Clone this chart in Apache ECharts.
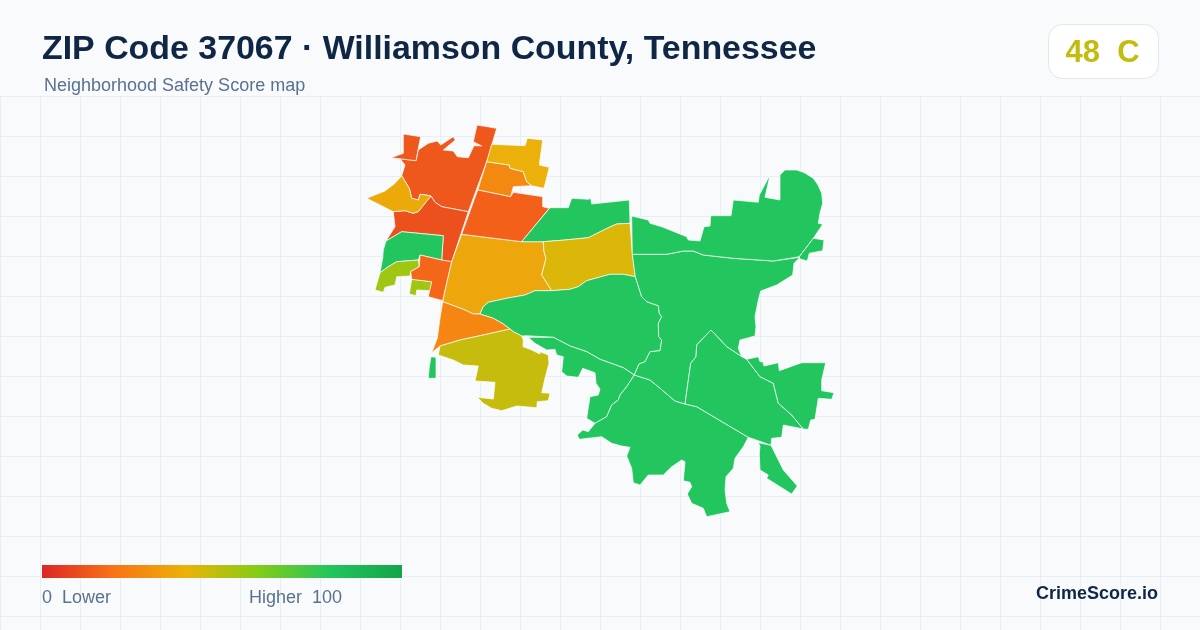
<!DOCTYPE html>
<html><head><meta charset="utf-8">
<style>html,body{margin:0;padding:0;background:#f8fafc}#c{width:1200px;height:630px}</style>
<script src="https://cdn.jsdelivr.net/npm/echarts@6/dist/echarts.min.js"></script>
</head><body><div id="c"></div>
<script>
// ---- data ----
const titleText = 'ZIP Code 37067 · Williamson County, Tennessee';
const subtitleText = 'Neighborhood Safety Score map';
const overallScore = 48;
const overallGrade = 'C';
const scaleMin = 0;
const scaleMax = 100;
const scaleStops = ['#dc2626','#f97316','#eab308','#84cc16','#22c55e','#16a34a'];
const regionNames = ['A','A2','B','W','GW','LW','LW2','OW','C1','NO','NA','CR','GN','YE','D','E','F','G','H','I','J','K','L','S'];
const regionScores = [13,13,11,37,80,55,55,17,36,27,39,15,80,43,80,80,80,80,80,80,80,80,80,80];
// region outlines, in map units
const outlines = {
 A:[[477,125],[496.7,128.3],[487.3,160],[468.3,211.7],[441.7,206.7],[435,202.3],[431,196],[426,195],[420,194.3],[418.3,200],[411.7,198.3],[409.3,188.3],[401.7,175.7],[405,165],[400,158.7],[416,160.7],[418.3,150],[428.3,143.3],[437.3,141],[440.7,145],[453.3,136.7],[455.3,140],[443.3,150],[453.3,151],[457.3,156.7],[468.3,157.7],[474,145.7],[481.7,146],[473.3,141.7]],
 A2:[[403.3,134],[420.7,136.7],[418.3,148.3],[416,160.7],[391,157.7],[403.3,153.3]],
 B:[[393.3,211.7],[405,210.7],[413.3,213.3],[418.3,211.7],[425,203.3],[431,196],[435,202.3],[441.7,206.7],[468.3,211.7],[451.7,261.7],[441.7,260],[443.3,235.7],[401.7,231.7],[386,241],[395,226.7]],
 W:[[401.7,175.7],[409.3,188.3],[411.7,198.3],[418.3,200],[420,194.3],[426,195],[431,196],[425,203.3],[418.3,211.7],[413.3,213.3],[405,210.7],[393.3,211.7],[366.7,198.3],[385,191],[395,183.3]],
 GW:[[401.7,231.7],[443.3,235.7],[441.7,260],[420,255],[418.3,260],[396.7,261.7],[388.3,266.7],[380,272.7],[382.7,258.3],[383.3,250],[386,241]],
 LW:[[380,272.7],[388.3,266.7],[396.7,261.7],[418.3,260],[419.3,266.7],[410.7,271.7],[410,276],[396.7,276.7],[395,285],[385,287.3],[383.3,292.3],[375,290]],
 LW2:[[411.7,279.3],[431.7,281.7],[430.7,290.7],[416.7,290],[416,295.7],[409.3,294]],
 OW:[[420,255],[441.7,260],[451.7,261.7],[447,282],[442.7,300.7],[428.3,296.7],[431.7,281.7],[411.7,279.3],[410.7,271.7],[419.3,266.7]],
 C1:[[461.7,234.3],[521.7,241.7],[543.3,241.7],[544,251.7],[546,258.3],[541.7,275],[551.7,290.7],[535,290.7],[525,295],[506.7,298.3],[488.3,302.3],[483.3,306.7],[480,314],[473.3,314],[463.3,309.3],[442.7,301.7],[447,282],[451.7,261.7]],
 NO:[[486.7,161.7],[509.3,165],[510,168.3],[523.3,171.7],[526.7,181.7],[531.7,185.7],[513.3,186.7],[510.7,196.7],[477.7,190]],
 NA:[[491.7,144.3],[525,145.7],[527.3,138.3],[542.7,140],[539.3,165],[549.3,167.3],[544,188.3],[531.7,185.7],[526.7,181.7],[523.3,171.7],[510,168.3],[509.3,165],[486.7,161.7]],
 CR:[[477.7,190],[510.7,196.7],[513.3,192.3],[542.7,196.7],[542.7,206.7],[549.3,208.3],[521.7,241.7],[461.7,234.3]],
 GN:[[550,207.7],[568.3,207.7],[571.7,198.3],[588.3,199.3],[590.7,198.3],[591.7,204],[629.3,200],[630,223.3],[616.7,224],[608.3,227.7],[588.3,237.7],[565,240],[543.3,241.7],[521.7,241.7]],
 YE:[[543.3,241.7],[565,240],[588.3,237.7],[608.3,227.7],[616.7,224],[630,223.3],[632.3,253.3],[635.3,276.7],[623.3,274.3],[610,274.3],[586.7,280.7],[578.3,286.7],[570,289.3],[551.7,290.7],[541.7,275],[546,258.3],[544,251.7]],
 D:[[551.7,290.7],[570,289.3],[578.3,286.7],[586.7,280.7],[610,274.3],[623.3,274.3],[635.3,276.7],[641.7,296.7],[646.7,301.7],[658.3,305.7],[659.3,313.3],[661.7,316.7],[658.3,323.3],[658.7,336.7],[661.7,340],[660,350.7],[650,351.7],[645,361.7],[639,364],[634.3,375],[623.3,367.7],[600,359.3],[586.7,351.7],[570,346],[553.3,337.3],[526.7,335.7],[521.7,336],[513.3,331.7],[510,329],[503.3,324],[493.3,318.3],[480,314],[483.3,306.7],[488.3,302.3],[506.7,298.3],[525,295],[535,290.7]],
 E:[[528.3,337.3],[553.3,337.3],[570,346],[586.7,351.7],[600,359.3],[623.3,367.7],[634.3,375],[626.7,386.7],[620,395],[618.3,400],[611.7,405],[606.7,416.7],[595,423.3],[586.7,418.3],[590,396.7],[598.3,395],[600,389],[596,383.3],[595,372.7],[582.7,368.3],[578.3,377.3],[566.7,376],[561.7,371.7],[563.3,356.7],[556.7,355],[555,349.3],[546.7,350],[535,343.3]],
 F:[[595,423.3],[606.7,416.7],[611.7,405],[618.3,400],[620,395],[626.7,386.7],[634.3,375],[650,380],[658.3,386.7],[675,401],[685,404],[696.7,406.7],[748.3,437.3],[743.3,446.7],[735,458.3],[733.3,468.3],[726,476.7],[725,490],[726.7,503.3],[730,511.7],[706.7,516.7],[703.3,508.3],[691.7,503.3],[687.3,494],[691.7,486.7],[690,482.3],[683.3,480.7],[685,461.7],[681.7,460],[671.7,466.7],[663.3,475],[648.3,475],[640,485],[633.3,482.7],[631.7,468.3],[626.7,456],[630,447.3],[621.7,446],[611.7,443.3],[601.7,436.7],[579.3,439.3],[577.3,435],[582.7,430],[588.3,431.7]],
 G:[[632.3,254.3],[656.7,254.3],[666.7,254.3],[683.3,251],[693.3,251],[703.3,255],[733.3,258.3],[773.3,261],[800,257.3],[794,263.3],[792.7,275],[776.7,285],[760.7,291],[758.3,300],[755,316.7],[756,326.7],[755,336],[740,340],[738.3,348.3],[741.7,356.7],[726.7,346.7],[711,330],[696.7,345],[696,356.7],[690.7,363.3],[685,404],[675,401],[658.3,386.7],[650,380],[634.3,375],[639,364],[645,361.7],[650,351.7],[660,350.7],[661.7,340],[658.7,336.7],[658.3,323.3],[661.7,316.7],[659.3,313.3],[658.3,305.7],[646.7,301.7],[641.7,296.7],[635.3,276.7]],
 H:[[711,330],[726.7,346.7],[741.7,356.7],[746.7,359.3],[760,376.7],[773.3,383.3],[778.3,403.3],[791.7,415],[803.3,429],[783.3,425],[781.7,437.3],[771.7,438.3],[771,445.3],[758.3,440.7],[748.3,437.3],[696.7,406.7],[685,404],[690.7,363.3],[696,356.7],[696.7,345]],
 I:[[758.3,442.7],[771,445.3],[783.3,470],[797.3,486],[791.7,494],[766.7,478.3],[768.3,475],[760,470],[759.3,453.3],[760,446]],
 J:[[746.7,359.3],[758.3,356.7],[760,361.7],[762.7,361.7],[764,366],[778.3,362.7],[779.3,370.7],[801.7,362.7],[825.7,362.7],[821.7,380],[821.7,390.7],[834,392.7],[831.7,399.3],[818.3,398.3],[815,419.3],[810.7,420],[808.3,429.3],[803.3,429],[791.7,415],[778.3,403.3],[773.3,383.3],[760,376.7]],
 K:[[631.7,216],[648.3,220],[650,223.3],[661.7,226.7],[686.7,236.7],[688.3,240],[700,241],[704,226.7],[710,226],[710.7,215.7],[731,215.7],[733.3,200],[758.3,202.3],[759.3,195],[770,175],[765,197.3],[780,200],[780,175],[785,170],[796.7,170],[804,172.5],[813.3,178.3],[818,185],[821.7,193.3],[822.7,203.3],[820,213],[818.3,223.3],[822.7,224.3],[813.3,238.3],[799.3,256.7],[773.3,261],[733.3,258.3],[703.3,255],[693.3,251],[683.3,251],[666.7,254.3],[656.7,254.3],[632.3,254.3]],
 L:[[813.3,238.3],[824,240],[822.7,250.7],[809.3,253.3],[807.3,261],[800,259],[799.3,256.7]],
 S:[[431,356.7],[436,357.3],[436,378.3],[428.3,378.3],[429.3,366.7]]
};
// triangle under the central tract and the olive tract share the map as two further outlines
const extraNames = ['T','O'];
const extraScores = [26,47];
const extraOutlines = {
 T:[[442.7,301.7],[463.3,309.3],[473.3,314],[480,314],[493.3,318.3],[503.3,324],[510,329],[483.3,335],[460,340],[440,346],[431.7,352.7],[437.3,338.3],[440,318.3]],
 O:[[510,329],[513.3,331.7],[521.7,336],[523.3,340],[523,346.7],[530,349.3],[540,354],[540,351.7],[548.3,355],[549,363.3],[545,378.3],[541.7,392.7],[550,393.3],[548.3,400.7],[537.3,401.7],[536.7,407.7],[516.7,406],[501.7,410.7],[491.7,408.3],[483.3,403.3],[477.3,397.3],[493.3,399],[495,382.3],[475,381],[478.3,366],[463.3,365],[453.3,360],[438.3,355],[440,346],[460,340],[483.3,335]]
};

// ---- chart ----
const allNames = regionNames.concat(extraNames);
const allScores = regionScores.concat(extraScores);
const allOutlines = Object.assign({}, outlines, extraOutlines);
const geoJson = {type:'FeatureCollection',features:allNames.map(n=>{
  const ring = allOutlines[n].slice(); ring.push(ring[0]);
  return {type:'Feature',properties:{name:n},geometry:{type:'Polygon',coordinates:[ring]}};
})};
echarts.registerMap('zip37067', geoJson);

const gridColor = '#e8eff4';
const gridEls = [];
for (let x = 0; x <= 1200; x += 40) gridEls.push({type:'line',z:-5,silent:true,shape:{x1:x+.5,y1:96.5,x2:x+.5,y2:630},style:{stroke:gridColor,lineWidth:1}});
for (let y = 96; y <= 630; y += 40) gridEls.push({type:'line',z:-5,silent:true,shape:{x1:0,y1:y+.5,x2:1200,y2:y+.5},style:{stroke:gridColor,lineWidth:1}});

const txt = (t,x,y,font,fill,align)=>({type:'text',z:10,silent:true,x:x,y:y,style:{text:t,x:0,y:0,font:font,fill:fill,align:align||'left',verticalAlign:'middle'}});
const FF = '"Liberation Sans", Arial, sans-serif';
const scoreColor = '#c1bd0e';
const barGradient = new echarts.graphic.LinearGradient(0,0,1,0,scaleStops.map((c,i)=>({offset:i/(scaleStops.length-1),color:c})));

const chart = echarts.init(document.getElementById('c'), null, {renderer:'canvas',width:1200,height:630});
chart.setOption({
  animation:false,
  backgroundColor:'#f8fafc',
  title:[
    {text:titleText,left:42,top:33,padding:0,textStyle:{fontFamily:FF,fontSize:33.9,fontWeight:'bold',color:'#0f2744'}},
    {text:subtitleText,left:44,top:77,padding:0,textStyle:{fontFamily:FF,fontSize:18,fontWeight:'normal',color:'#5a7190'}}
  ],
  visualMap:{
    type:'continuous',show:false,min:scaleMin,max:scaleMax,
    inRange:{color:scaleStops},seriesIndex:0
  },
  series:[{
    type:'map',map:'zip37067',roam:false,selectedMode:false,silent:true,
    projection:{project:p=>p,unproject:p=>p},
    boundingCoords:[[0,0],[1200,630]],
    left:0,top:0,width:1200,height:630,
    label:{show:false},emphasis:{disabled:true},
    itemStyle:{borderColor:'#ffffff',borderWidth:0.7,areaColor:'#cccccc'},
    data:allNames.map((n,i)=>({name:n,value:allScores[i]}))
  }],
  graphic:{elements:gridEls.concat([
    {type:'rect',z:8,silent:true,shape:{x:1048.5,y:24.5,width:110,height:54,r:14},style:{fill:'#ffffff',stroke:'#e0e6ee',lineWidth:1}},
    {type:'rect',z:8,silent:true,shape:{x:42,y:565,width:360,height:13},style:{fill:barGradient}},
    txt(overallScore+'  '+overallGrade,1102.5,53,'bold 31px '+FF,scoreColor,'center'),
    txt(scaleMin+'  Lower',42,598,'18px '+FF,'#5a7190'),
    txt('Higher  '+scaleMax,249,598,'18px '+FF,'#5a7190'),
    txt('CrimeScore.io',1158,594,'bold 18px '+FF,'#0f2744','right')
  ])}
});
</script></body></html>
